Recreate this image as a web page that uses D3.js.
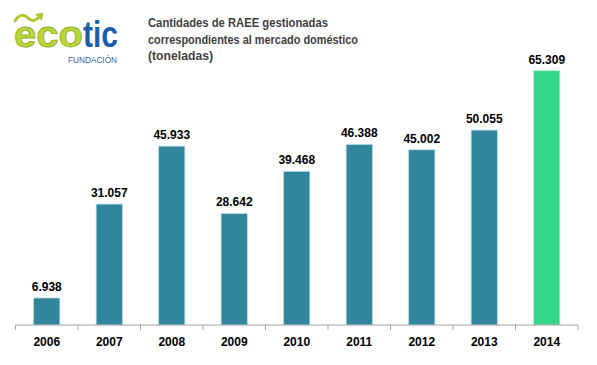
<!DOCTYPE html>
<html>
<head>
<meta charset="utf-8">
<script src="https://cdn.jsdelivr.net/npm/d3@7"></script>
<style>
  body { margin: 0; background: #fff; }
  svg { display: block; }
</style>
</head>
<body>
<div id="chart"></div>
<script>
// data (toneladas)
const years = ["2006", "2007", "2008", "2009", "2010", "2011", "2012", "2013", "2014"]
const tonnes = [6938, 31057, 45933, 28642, 39468, 46388, 45002, 50055, 65309]
const title_lines = [
    "Cantidades de RAEE gestionadas",
    "correspondientes al mercado doméstico",
    "(toneladas)"
]
const highlight_year = "2014"

const width = 597,
      height = 365

const axis_y = 325,
      plot_left = 15.5,
      plot_right = 578

const teal = "#31859c",
      green = "#31d68a"

const es = d3.formatLocale({ decimal: ",", thousands: ".", grouping: [3], currency: ["", "€"] })
const fmt = es.format(",.0f")

const data = years.map((year, i) => ({ year, value: tonnes[i] }))

const svg = d3.select("#chart")
    .append("svg")
    .attr("width", width)
    .attr("height", height)
    .style("font-family", "'Liberation Sans', Arial, sans-serif")

// bars sit in the middle of each category slot
const x = d3.scaleBand()
    .domain(years)
    .range([plot_left, plot_right])
    .paddingInner(0.58)
    .paddingOuter(0.29)

// slot boundaries for the tick marks
const slots = d3.scaleBand()
    .domain(years)
    .range([plot_left, plot_right])

const y = d3.scaleLinear()
    .domain([0, 65309])
    .range([axis_y, 70.7])

svg.selectAll("rect.bar")
    .data(data)
    .enter()
    .append("rect")
    .attr("class", "bar")
    .attr("x", d => x(d.year))
    .attr("y", d => y(d.value))
    .attr("width", x.bandwidth())
    .attr("height", d => y(0) - y(d.value))
    .attr("fill", d => d.year === highlight_year ? green : teal)
    .attr("stroke", d => d.year === highlight_year ? "#b8f2d4" : "#b9dde6")
    .attr("stroke-width", 0.8)

svg.selectAll("text.value")
    .data(data)
    .enter()
    .append("text")
    .attr("class", "value")
    .attr("x", d => x(d.year) + x.bandwidth() / 2)
    .attr("y", d => y(d.value) - 7)
    .attr("text-anchor", "middle")
    .attr("font-size", 12)
    .attr("font-weight", "bold")
    .attr("fill", "#000")
    .text(d => fmt(d.value))

// category axis: line, ticks on slot boundaries, year labels
const axis = svg.append("g")
    .attr("transform", `translate(0, ${axis_y})`)

axis.append("line")
    .attr("x1", plot_left)
    .attr("x2", plot_right)
    .attr("stroke", "#a6a6a6")
    .attr("stroke-width", 1.2)

const tick_x = years.map(yr => slots(yr)).concat([plot_right])

axis.selectAll("line.tick")
    .data(tick_x)
    .enter()
    .append("line")
    .attr("class", "tick")
    .attr("x1", d => d)
    .attr("x2", d => d)
    .attr("y1", 0)
    .attr("y2", 5)
    .attr("stroke", "#a6a6a6")

axis.selectAll("text.year")
    .data(years)
    .enter()
    .append("text")
    .attr("class", "year")
    .attr("x", d => slots(d) + slots.bandwidth() / 2)
    .attr("y", 21)
    .attr("text-anchor", "middle")
    .attr("font-size", 12)
    .attr("font-weight", "bold")
    .attr("fill", "#000")
    .text(d => d)

// title
const title_widths = [180, 210, 65]
svg.selectAll("text.title")
    .data(title_lines)
    .enter()
    .append("text")
    .attr("class", "title")
    .attr("x", 148)
    .attr("y", (d, i) => 27 + i * 16.5)
    .attr("font-size", 13)
    .attr("font-weight", "bold")
    .attr("fill", "#3f3f3f")
    .attr("textLength", (d, i) => title_widths[i])
    .attr("lengthAdjust", "spacingAndGlyphs")
    .text(d => d)

// logo
const logo = svg.append("g")

logo.append("path")
    .attr("d", "M15,21 C19,14 24,14 28,18 C32,22 36,21 40,16")
    .attr("fill", "none")
    .attr("stroke", "#a9c72c")
    .attr("stroke-width", 3)
    .attr("stroke-linecap", "round")

logo.append("path")
    .attr("d", "M36,15 L42,14 L41,20")
    .attr("fill", "none")
    .attr("stroke", "#a9c72c")
    .attr("stroke-width", 2)

logo.append("text")
    .attr("x", 14)
    .attr("y", 47)
    .attr("font-size", 37)
    .attr("font-weight", "bold")
    .attr("fill", "#bcd63a")
    .attr("stroke", "#8fae1f")
    .attr("stroke-width", 0.8)
    .attr("textLength", 69)
    .attr("lengthAdjust", "spacingAndGlyphs")
    .text("eco")

logo.append("text")
    .attr("x", 83)
    .attr("y", 47)
    .attr("font-size", 37)
    .attr("font-weight", "bold")
    .attr("fill", "#1d5ca8")
    .attr("textLength", 35)
    .attr("lengthAdjust", "spacingAndGlyphs")
    .text("tic")

logo.append("text")
    .attr("x", 68)
    .attr("y", 63)
    .attr("font-size", 8.5)
    .attr("fill", "#2a63ad")
    .attr("textLength", 49)
    .attr("lengthAdjust", "spacingAndGlyphs")
    .text("FUNDACIÓN")
</script>
</body>
</html>
